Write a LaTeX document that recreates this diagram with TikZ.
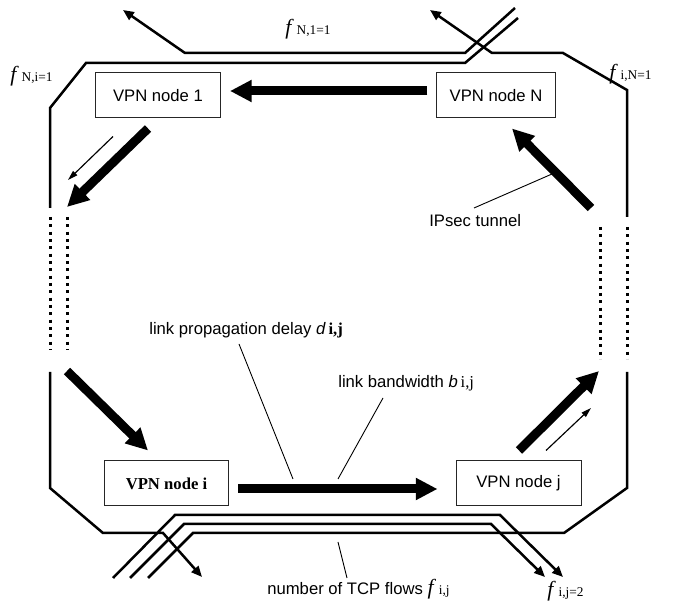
\documentclass[tikz,border=0pt]{standalone}
\usepackage{fontspec}
\setmainfont{Liberation Sans}
\newfontfamily\timesfont{Liberation Serif}
\usetikzlibrary{arrows.meta, positioning, calc}

% flow count label: italic f with a small upright index
\newcommand{\flowlab}[1]{{\timesfont{\fontsize{13}{14}\selectfont\textit{f}}\,{\fontsize{8}{9}\selectfont #1}}}

\begin{document}
\begin{tikzpicture}[
    x=0.6pt, y=-0.6pt,
    font=\fontsize{10}{12}\selectfont,
    vpn/.style={draw=black!85, line width=0.6pt, minimum width=75pt, minimum height=27pt, inner sep=0pt},
    tunnel/.style={line width=5.4pt, -{Triangle[length=13pt, width=12.5pt]}},
    hint/.style={line width=0.7pt, -{Triangle[length=6pt, width=3.5pt]}},
    flowline/.style={line width=1.5pt, line join=miter},
    flowarrow/.style={flowline, -{Triangle[length=6.5pt, width=5.5pt]}},
    dotline/.style={line width=1.8pt, dash pattern=on 1.8pt off 2.6pt},
    leader/.style={line width=0.55pt},
]
    \useasboundingbox (0,0) rectangle (673,603);

    % VPN nodes
    \node[vpn] (n1) at (158,95.5) {VPN node 1};
    \node[vpn, minimum width=71pt] (nN) at (496,95.5) {VPN node N};
    \node[vpn, font=\timesfont\bfseries] (ni) at (166.5,483.5) {VPN node i};
    \node[vpn] (nj) at (518.5,483.5) {VPN node j};

    % ends of the dotted stretches
    \coordinate (lt) at (67,217);
    \coordinate (lb) at (67,350);
    \coordinate (rt) at (600,227);
    \coordinate (rb) at (600,359);

    % IPsec tunnels
    \draw[tunnel] ($(nN.west)+(-9,-4.5)$) -- ($(n1.east)+(9,-4.5)$);
    \draw[tunnel] ($(n1.south)+(-10,10)$) -- ($(lt)+(0,-10)$);
    \draw[tunnel] ($(lb)+(0,21)$) -- ($(ni.north)+(-18.5,-10)$);
    \draw[tunnel] ($(ni.east)+(9,5.5)$) -- ($(nj.west)+(-18,5.5)$);
    \draw[tunnel] ($(nj.north)+(0.5,-10)$) -- ($(rb)+(-1,12)$);
    \draw[tunnel] ($(rt)+(-9,-19)$) -- ($(nN.south)+(16,10)$);
    \draw[dotline] (lt) -- (lb);
    \draw[dotline] (rt) -- (rb);

    % direction hints
    \draw[hint] ($(n1.south)+(-45,18)$) -- ($(lt)+(1,-37)$);
    \draw[hint] ($(nj.north)+(27.5,-10)$) -- ($(rb)+(-9,49)$);

    % TCP flows
    \draw[flowline] (518,18) -- (465,63) -- (86,63) -- (50,108) -- (50,208);
    \draw[dotline] (50,217) -- (50,350);
    \draw[flowarrow] (50,372) -- (50,488) -- (103,533) -- (163,533) -- (202,577);
    \draw[flowarrow] (515,8) -- (465,53) -- (185,53) -- (123,10);
    \draw[flowline] (148,578) -- (193,533) -- (564,533) -- (627,488) -- (627,372);
    \draw[dotline] (627,227) -- (627,359);
    \draw[flowarrow] (627,217) -- (627,90) -- (563,53) -- (492,53) -- (430,10);
    \draw[flowarrow] (113,578) -- (175,515) -- (500,515) -- (563,577);
    \draw[flowarrow] (130,578) -- (184,524) -- (491,524) -- (545,577);

    % labels
    \node[anchor=west, inner sep=0pt] (lNone) at (285,29) {\flowlab{N,1=1}};
    \node[anchor=west, inner sep=0pt] (lNi) at (10,76) {\flowlab{N,i=1}};
    \node[anchor=west, inner sep=0pt] (liN) at (609,74) {\flowlab{i,N=1}};
    \node[anchor=west, inner sep=0pt] (lij) at (547,591) {\flowlab{i,j=2}};

    \node[anchor=west, inner sep=0pt] (ltun) at (429,221) {IPsec tunnel};
    \draw[leader] (474,208) -- (552,174);

    \node[anchor=west, inner sep=0pt] (ldel) at (149,330) {link propagation delay \textit{d}\,{\timesfont\bfseries i,j}};
    \draw[leader] (239,344) -- (293,479);

    \node[anchor=west, inner sep=0pt] (lbw) at (338,383) {link bandwidth \textit{b}\,{\timesfont i,j}};
    \draw[leader] (383,398) -- (338,479);

    \node[anchor=west, inner sep=0pt] (ltcp) at (267,589) {number of TCP flows \flowlab{i,j}};
    \draw[leader] (338,542) -- (347,578);
\end{tikzpicture}
\end{document}
